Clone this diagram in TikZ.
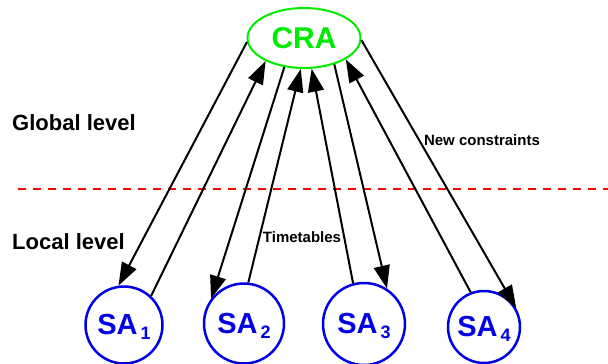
\documentclass[tikz,border=0pt]{standalone}
\usepackage{fontspec}
\setmainfont{Liberation Sans}
\usetikzlibrary{arrows.meta,shapes.geometric}
\definecolor{cragreen}{RGB}{0,235,0}
\definecolor{sablue}{RGB}{0,0,230}
\newcommand\saidx[1]{\kern3pt{\fontsize{18}{18}\selectfont\raisebox{-5pt}[0pt][0pt]{#1}}}
\begin{document}
\begin{tikzpicture}[x=1pt,y=-1pt,
  flow/.style={line width=2pt, -{Triangle[length=23pt,width=16pt]}},
  cra/.style={ellipse, draw=cragreen, line width=2pt, minimum width=113pt, minimum height=60pt, inner sep=0pt, text=cragreen, font=\fontsize{30}{30}\selectfont\bfseries},
  sa/.style={circle, draw=sablue, line width=2.5pt, inner sep=0pt, text=sablue, font=\fontsize{29}{29}\selectfont\bfseries},
  level/.style={font=\fontsize{22}{22}\selectfont\bfseries, anchor=west, inner sep=0pt},
  note/.style={font=\fontsize{15}{15}\selectfont\bfseries, inner sep=0pt}]
\useasboundingbox (0,0) rectangle (608,364);
% dashed separator
\coordinate (dl) at (18,189);
\coordinate (dr) at (608,189);
\draw[red, line width=2.5pt, dash pattern=on 8pt off 7pt] (dl) -- (dr);
% nodes
\node[cra] (cra) at (304,38) {CRA};
\node[sa, minimum size=77pt] (sa1) at (124,325) {SA\saidx{1}};
\node[sa, minimum size=80pt] (sa2) at (244,323.5) {SA\saidx{2}};
\node[sa, minimum size=82pt] (sa3) at (364,324) {SA\saidx{3}};
\node[sa, minimum size=72pt] (sa4) at (484,327) {SA\saidx{4}};
% labels
\node[level] (glob) at (12,123) {Global level};
\node[level] (loc) at (12,242) {Local level};
\node[note] (nc) at (482,140) {New constraints};
\node[note] (tt) at (302,237) {Timetables};
% connectors
\draw[flow] (cra.184) -- (sa1.98);
\draw[flow] (sa1.47) -- (cra.211);
\draw[flow] (cra.236) -- (sa2.143);
\draw[flow] (sa2.84) -- (cra.264);
\draw[flow] (cra.319) -- (sa3.57);
\draw[flow] (sa3.105) -- (cra.284);
\draw[flow] (cra.358) -- (sa4.30);
\draw[flow] (sa4.111) -- (cra.333);
\end{tikzpicture}
\end{document}
